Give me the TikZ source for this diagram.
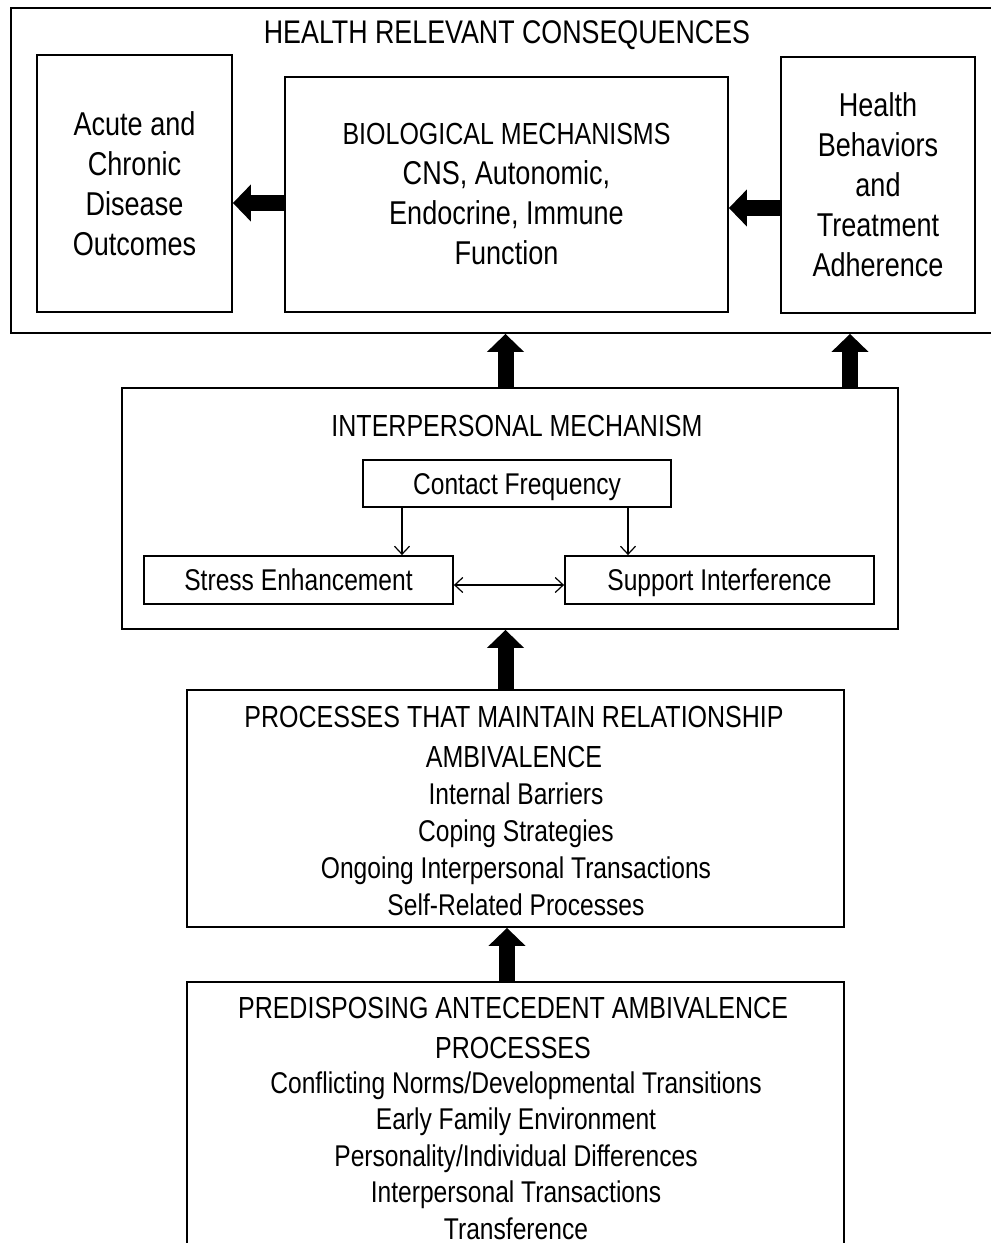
\documentclass[tikz,border=0pt]{standalone}
\usepackage{fontspec}
\usetikzlibrary{arrows.meta,calc}
\newfontfamily\cond[FakeStretch=0.82]{Liberation Sans}
\newcommand{\titlef}{\cond\fontsize{32.7}{40}\selectfont}
\newcommand{\headf}{\cond\fontsize{30.5}{40}\selectfont}
\newcommand{\bigf}{\cond\fontsize{33}{40}\selectfont}
\newcommand{\smallf}{\cond\fontsize{30}{37}\selectfont}
\newcommand{\listf}{\cond\fontsize{30}{36.5}\selectfont}
\tikzset{
  box/.style={draw=black, line width=1.8pt, rectangle, inner sep=0pt, align=center},
  smallbox/.style={box, font=\smallf, text height=21.5pt, text depth=0pt},
  txt/.style={inner sep=0pt, align=center},
  fat/.style={line width=16pt, -{Triangle[length=18pt 0 0, width=36pt 0 0]}},
  thin/.style={line width=1.2pt, -{Straight Barb[length=8pt 0 0, width=15pt 0 0]}},
  thinboth/.style={line width=1.2pt, {Straight Barb[length=8pt 0 0, width=15pt 0 0]}-{Straight Barb[length=8pt 0 0, width=15pt 0 0]}}
}
\begin{document}
\begin{tikzpicture}[x=1pt,y=-1pt]
\useasboundingbox[fill=white] (0,0) rectangle (991,1243);

% top section
\node[box, minimum width=982pt, minimum height=325pt] (outer) at (502,170.5) {};
\node[txt, font=\titlef] (title) at (507,35) {HEALTH RELEVANT CONSEQUENCES};
\node[box, minimum width=195pt, minimum height=257pt, font=\bigf] (left) at (134.5,183.5)
  {Acute and\\Chronic\\Disease\\Outcomes};
\node[box, minimum width=443pt, minimum height=235pt, font=\bigf] (mid) at (506.5,194.5)
  {{\headf BIOLOGICAL MECHANISMS}\\CNS, Autonomic,\\Endocrine, Immune\\Function};
\node[box, minimum width=194pt, minimum height=256pt, font=\bigf] (right) at (878,185)
  {Health\\Behaviors\\and\\Treatment\\Adherence};

\draw[fat] ([yshift=-8.5pt]mid.west) -- ([yshift=-8.5pt]mid.west -| left.east);
\draw[fat] ([yshift=-23pt]right.west) -- ([yshift=-23pt]right.west -| mid.east);

% interpersonal section
\node[box, minimum width=776pt, minimum height=241pt] (inter) at (510,508.5) {};
\node[txt, font=\headf] (intertitle) at (517,426) {INTERPERSONAL MECHANISM};
\node[smallbox, minimum width=308pt, minimum height=47pt] (cf) at (517,483.5) {Contact Frequency};
\node[smallbox, minimum width=309pt, minimum height=48pt] (se) at (298.5,580) {Stress Enhancement};
\node[smallbox, minimum width=309pt, minimum height=48pt] (si) at (719.5,580) {Support Interference};

\draw[thin] ([xshift=-115pt]cf.south) -- ([xshift=-115pt]cf.south |- se.north);
\draw[thin] ([xshift=111pt]cf.south) -- ([xshift=111pt]cf.south |- si.north);
\draw[thinboth] ([yshift=-5pt]se.east) -- ([yshift=-5pt]si.west);

\draw[fat] ([xshift=-4.5pt]inter.north) -- ([xshift=-4.5pt]inter.north |- outer.south);
\draw[fat] ([xshift=340pt]inter.north) -- ([xshift=340pt]inter.north |- outer.south);

% processes section
\node[box, minimum width=657pt, minimum height=237pt] (proc) at (515.5,808.5) {};
\node[txt, font=\headf] (prochead) at (514,737) {PROCESSES THAT MAINTAIN RELATIONSHIP\\AMBIVALENCE};
\node[txt, font=\smallf] (proclist) at (516,849.5)
  {Internal Barriers\\Coping Strategies\\Ongoing Interpersonal Transactions\\Self-Related Processes};

\draw[fat] ([xshift=-10pt]proc.north) -- ([xshift=-10pt]proc.north |- inter.south);

% predisposing section
\node[box, minimum width=657pt, minimum height=278pt] (pred) at (515.5,1121) {};
\node[txt, font=\headf] (predhead) at (513,1028) {PREDISPOSING ANTECEDENT AMBIVALENCE\\PROCESSES};
\node[txt, font=\listf] (predlist) at (516,1155.5)
  {Conflicting Norms/Developmental Transitions\\Early Family Environment\\Personality/Individual Differences\\Interpersonal Transactions\\Transference};

\draw[fat] ([xshift=-8.5pt]pred.north) -- ([xshift=-8.5pt]pred.north |- proc.south);
\end{tikzpicture}
\end{document}
